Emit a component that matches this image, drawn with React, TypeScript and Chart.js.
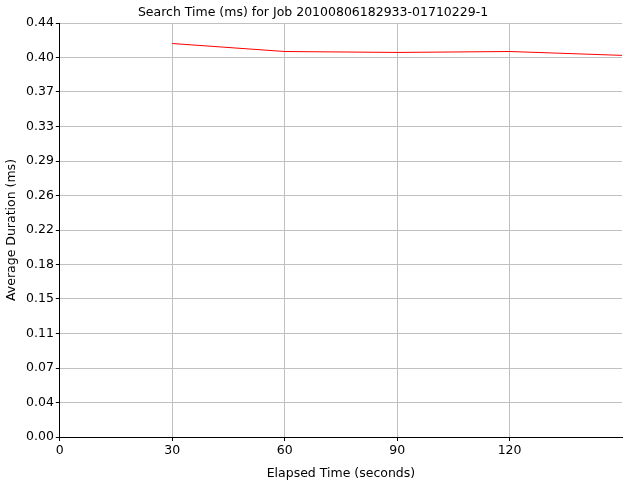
import React, { useEffect, useRef } from "react";
import { Chart, registerables } from "chart.js";

Chart.register(...registerables);

const titleText = "Search Time (ms) for Job 20100806182933-01710229-1";
const xLabel = "Elapsed Time (seconds)";
const yLabel = "Average Duration (ms)";
const elapsed = [30, 60, 90, 120, 150];
const duration = [0.4182, 0.4097, 0.4087, 0.4097, 0.4056];
const xTicks = [0, 30, 60, 90, 120];
const yTicks = [0, 0.0367, 0.0733, 0.11, 0.1467, 0.1833, 0.22, 0.2567, 0.2933, 0.33, 0.3667, 0.4033, 0.44];

const FONT = "'DejaVu Sans', Verdana, sans-serif";
const FS = 12.5;

export default function App() {
  const ref = useRef<HTMLCanvasElement>(null);
  useEffect(() => {
    document.body.style.margin = "0";
    const ctx = ref.current!;
    const chart = new Chart(ctx, {
      type: "line",
      data: {
        datasets: [
          {
            data: elapsed.map((x, i) => ({ x, y: duration[i] })),
            borderColor: "#ff0000",
            borderWidth: 1,
            pointRadius: 0,
            fill: false,
            tension: 0,
          },
        ],
      },
      options: {
        animation: false,
        responsive: false,
        layout: { padding: { top: 0, right: 18, bottom: -1, left: 4 } },
        plugins: {
          legend: { display: false },
          tooltip: { enabled: false },
          title: {
            display: true,
            text: titleText,
            color: "#000",
            font: { family: FONT, size: FS, weight: "normal" },
            padding: { top: 5, bottom: 3 },
          },
        },
        scales: {
          x: {
            type: "linear",
            min: 0,
            max: 150,
            afterBuildTicks: (axis: any) => {
              axis.ticks = xTicks.map((v) => ({ value: v }));
            },
            ticks: {
              color: "#000",
              font: { family: FONT, size: FS },
              padding: 2,
              maxRotation: 0,
              callback: (v: any) => String(v),
            },
            grid: { color: "#c0c0c0", tickColor: "#000", tickLength: 4, lineWidth: 1 },
            border: { color: "#000", width: 1 },
            title: {
              display: true,
              text: xLabel,
              color: "#000",
              font: { family: FONT, size: FS },
              padding: { top: 6, bottom: 0 },
            },
          },
          y: {
            type: "linear",
            min: 0,
            max: 0.44,
            afterBuildTicks: (axis: any) => {
              axis.ticks = yTicks.map((v) => ({ value: v }));
            },
            ticks: {
              color: "#000",
              font: { family: FONT, size: FS },
              padding: 2,
              callback: (v: any) => Number(v).toFixed(2),
            },
            grid: { color: "#c0c0c0", tickColor: "#000", tickLength: 4, lineWidth: 1 },
            border: { color: "#000", width: 1 },
            title: {
              display: true,
              text: yLabel,
              color: "#000",
              font: { family: FONT, size: FS },
              padding: { top: 0, bottom: 5 },
            },
          },
        },
      },
    });
    return () => chart.destroy();
  }, []);
  return (
    <div style={{ width: 640, height: 480, background: "#fff" }}>
      <canvas ref={ref} width={640} height={480} style={{ display: "block" }} />
    </div>
  );
}
